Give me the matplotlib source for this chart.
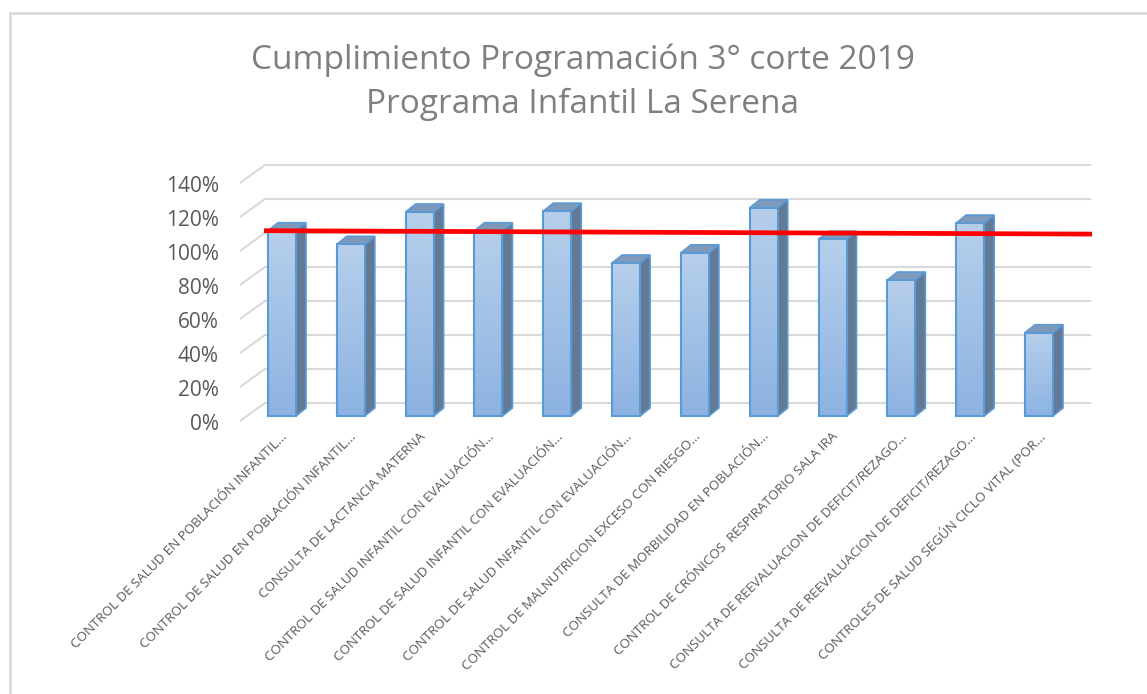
import matplotlib.pyplot as plt
import numpy as np
from matplotlib.patches import Polygon, Rectangle
from matplotlib.colors import LinearSegmentedColormap

plt.rcParams['font.family'] = ['Open Sans', 'DejaVu Sans']

# data
categorias = [
    "CONTROL DE SALUD EN POBLACIÓN INFANTIL...",
    "CONTROL DE SALUD EN POBLACIÓN INFANTIL...",
    "CONSULTA DE LACTANCIA MATERNA",
    "CONTROL DE SALUD INFANTIL CON EVALUACIÓN...",
    "CONTROL DE SALUD INFANTIL CON EVALUACIÓN...",
    "CONTROL DE SALUD INFANTIL CON EVALUACIÓN...",
    "CONTROL DE MALNUTRICION EXCESO CON RIESGO...",
    "CONSULTA DE MORBILIDAD EN POBLACIÓN...",
    "CONTROL DE CRÓNICOS  RESPIRATORIO SALA IRA",
    "CONSULTA DE REEVALUACION DE DEFICIT/REZAGO...",
    "CONSULTA DE REEVALUACION DE DEFICIT/REZAGO...",
    "CONTROLES DE SALUD SEGÚN CICLO VITAL (POR...",
]
cumplimiento = [1.09, 1.01, 1.20, 1.09, 1.205, 0.90, 0.96, 1.225, 1.04, 0.80, 1.135, 0.49]
meta = [1.09, 1.07]  # red reference line, left end / right end
ticks = [0, 0.2, 0.4, 0.6, 0.8, 1.0, 1.2, 1.4]
tick_labels = ["0%", "20%", "40%", "60%", "80%", "100%", "120%", "140%"]
titulo = "Cumplimiento Programación 3° corte 2019\nPrograma Infantil La Serena"

fig = plt.figure(figsize=(11.47, 6.94), dpi=100)
ax = fig.add_axes([240 / 1147, (694 - 441.5) / 694, 852 / 1147, 280.5 / 694])
ax.set_xlim(-0.61, 11.77)
ax.set_ylim(-0.15, 1.5)
ax.axis('off')

# pixel -> data scale
px_x = 68.8
px_y = 170.0

# chart border (runs off right and bottom edge)
fig.patches.append(Rectangle((9.5 / 1147, -0.1), 1.2, (694 - 13.5) / 694 + 0.1,
                             transform=fig.transFigure, fill=False,
                             edgecolor='#d9d9d9', lw=2))

# gridlines: back wall + floor diagonal
xb0 = (265 - 282) / px_x
xb1 = (1090 - 282) / px_x
xf0 = (240 - 282) / px_x
for t, lab in zip(ticks, tick_labels):
    yb = t + 13 / px_y
    yf = t - 5 / px_y
    ax.plot([xf0, xb0, xb1], [yf, yb, yb], color='#d9d9d9', lw=1.5, zorder=1,
            solid_joinstyle='miter')
    ax.text(xf0 - 21 / px_x, yf - 3 / px_y, lab, ha='right', va='center',
            fontsize=15, color='#595959')

# bars
x = np.arange(len(cumplimiento))
w = 28 / px_x
ddx = 10 / px_x
ddy = 8 / px_y
cmap = LinearSegmentedColormap.from_list('azul', ['#8db3e2', '#b6cfeb'])
grad = np.linspace(0, 1, 100).reshape(-1, 1)
for xi, v in zip(x, cumplimiento):
    l, r = xi - w / 2, xi + w / 2
    side = Polygon([(r, 0), (r + ddx, ddy), (r + ddx, v + ddy), (r, v)],
                   closed=True, facecolor='#627a95', edgecolor='#5b9bd5',
                   lw=1.2, zorder=3)
    top = Polygon([(l, v), (l + ddx, v + ddy), (r + ddx, v + ddy), (r, v)],
                  closed=True, facecolor='#7f99ba', edgecolor='#5b9bd5',
                  lw=1.2, zorder=3)
    ax.add_patch(side)
    ax.add_patch(top)
    front = Rectangle((l, 0), w, v, facecolor='none', edgecolor='#5b9bd5',
                      lw=1.5, zorder=5)
    ax.add_patch(front)
    im = ax.imshow(grad, extent=[l, r, 0, v], origin='lower', aspect='auto',
                   cmap=cmap, zorder=4)
    im.set_clip_path(Rectangle((l, 0), w, v, transform=ax.transData))

# red line
ax.plot([(264 - 282) / px_x, (1092 - 282) / px_x], meta, color='red', lw=3.4,
        zorder=6, solid_capstyle='butt')

# category labels
for xi, lab in zip(x, categorias):
    ax.text(xi - 1 / px_x, -14 / px_y, lab, rotation=45, rotation_mode='anchor',
            ha='right', va='top', fontsize=9.6, color='#595959')

fig.text(0.5 * (248 + 918) / 1147, 1 - 60 / 694, titulo.split('\n')[0],
         ha='center', va='center', fontsize=24, color='#7f7f7f')
fig.text(0.5 * (248 + 918) / 1147, 1 - 104 / 694, titulo.split('\n')[1],
         ha='center', va='center', fontsize=24, color='#7f7f7f')

fig.savefig('out.png', dpi=100)
